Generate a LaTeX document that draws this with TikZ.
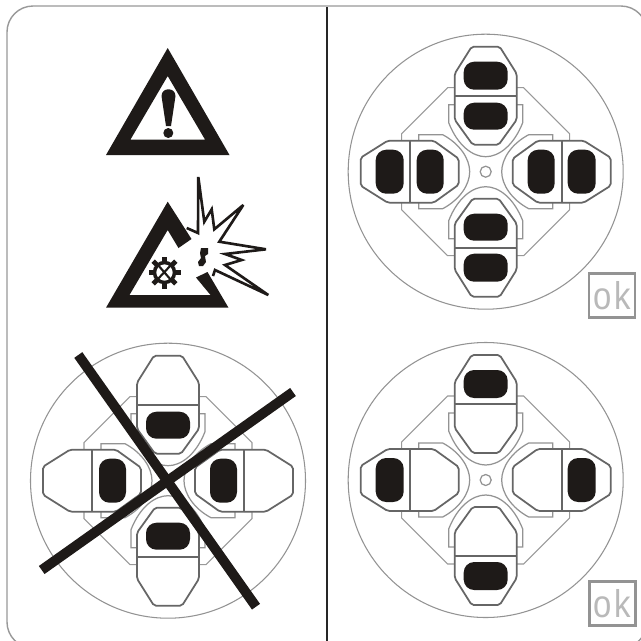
\documentclass[tikz,border=0pt]{standalone}
\usepackage{fontspec}
\setsansfont[FakeStretch=0.85, LetterSpace=7]{Liberation Sans}
\definecolor{inkblack}{HTML}{1E1A18}

\begin{document}
\begin{tikzpicture}[
    x=0.2mm, y=-0.2mm,
    frameline/.style={draw=gray!80, line width=0.8pt},
    disk/.style={draw=gray!85, line width=0.6pt},
    plate/.style={draw=gray!80, line width=0.6pt},
    tongue/.style={draw=gray!85, line width=0.7pt},
    shoe/.style={draw=gray!80!black, line width=1pt, fill=white, rounded corners=0.4mm},
    pad/.style={fill=inkblack, rounded corners=2.1mm},
    bar/.style={draw=inkblack, line width=5.6pt},
    okbox/.style={draw=gray!85, line width=1.3pt, minimum width=9.2mm, minimum height=8.8mm,
                  inner sep=0pt, font=\sffamily\fontsize{22}{22}\selectfont, text=gray!55},
    wheel/.pic={
        \draw[disk] (0,0) circle (137.5);
        \foreach \a/\d/\e in {0/49/15, 90/43/16, 180/49/15, 270/43/16} {
            \draw[plate, rotate=\a] (-31,-84) -- (-38,-84) -- (-84,-38) -- (-84,-31) -- (-76,-31);
            \draw[tongue, rotate=\a] (-31,-67) -- (-37,-67) -- (-37,-\d)
                .. controls (-28,-26) and (-13,-\e) .. (0,-\e)
                .. controls (13,-\e) and (28,-26) .. (37,-\d) -- (37,-67) -- (31,-67);
        }
        \foreach \a in {0,90,180,270} {
            \draw[shoe, rotate=\a] (-14,-125) -- (14,-125) -- (31,-98) -- (31,-52) -- (13,-27)
                -- (-13,-27) -- (-31,-52) -- (-31,-98) -- cycle;
            \draw[shoe, rotate=\a] (-31,-76) -- (31,-76);
        }
        \draw[tongue] (0,0) circle (5.5);
    },
    outerpads/.pic={
        \foreach \a in {0,90,180,270} {
            \fill[pad, rotate=\a] (-22,-110) rectangle (22,-82);
        }
    },
    innerpads/.pic={
        \foreach \a in {0,90,180,270} {
            \fill[pad, rotate=\a] (-22,-69) rectangle (22,-42);
        }
    }
]
\useasboundingbox (0,0) rectangle (641,641);
\fill[white] (0,0) rectangle (641,641);

\draw[frameline, rounded corners=5.2mm] (7,6) rectangle (647,648);
\draw[draw=gray!30!black, line width=0.9pt] (327,7) -- (327,641);

% warning sign
\fill[inkblack, even odd rule] (167.7,48) -- (229.5,155) -- (106,155) -- cycle
    (167.7,76) -- (130.5,139.5) -- (205,139.5) -- cycle;
\fill[inkblack] (161.5,96) .. controls (161.5,87) and (175.5,87) .. (175.5,96)
    -- (171,126) -- (166,126) -- cycle;
\fill[inkblack] (168.3,133) circle (5);

% explosion sign
\draw[draw=inkblack, line width=1.5pt, fill=white, miter limit=5]
    (186.7,228) -- (198,233) -- (198.3,177) -- (204.3,221.7) -- (211.7,209.3) -- (214.3,229.3)
    -- (243.3,205) -- (219.3,241.7) -- (266,249.3) -- (225,254) -- (241.7,260) -- (225,265)
    -- (268.3,295) -- (215,270) -- (213,276);
\fill[inkblack] (106,307.7) -- (167.7,201.7) -- (191.5,239) -- (178.5,248) -- (167.7,230)
    -- (129.5,295) -- (210.5,295) -- (196,277.5) -- (207.5,272) -- (228.5,307.7) -- cycle;
\fill[inkblack] (201,248) -- (208,248) -- (208,254) -- (205,256) -- (206,262) -- (203,266)
    -- (199,266) -- (198,262) -- (201,258) -- (200,253) -- cycle;
\draw[draw=inkblack, line width=2pt] (164.5,272.5) circle (10);
\foreach \a in {0,45,...,315} {
    \draw[draw=inkblack, line width=2.8pt, shift={(164.5,272.5)}, rotate=\a] (10,0) -- (16,0);
}
\draw[draw=inkblack, line width=1.2pt] (158,265) -- (171,280) (157,280) -- (171,265);

% discs
\pic at (485.7,171.7) {wheel};
\pic at (485.7,171.7) {outerpads};
\pic at (485.7,171.7) {innerpads};
\pic at (485.7,480) {wheel};
\pic at (485.7,480) {outerpads};
\pic at (168,480.7) {wheel};
\pic at (168,480.7) {innerpads};

\draw[bar] (78.3,355) -- (256,606.7);
\draw[bar] (41.7,570) -- (293,392);

\node[okbox] (oktop) at (612,295.5) {ok};
\node[okbox] (okbottom) at (612.5,603.5) {ok};
\end{tikzpicture}
\end{document}
